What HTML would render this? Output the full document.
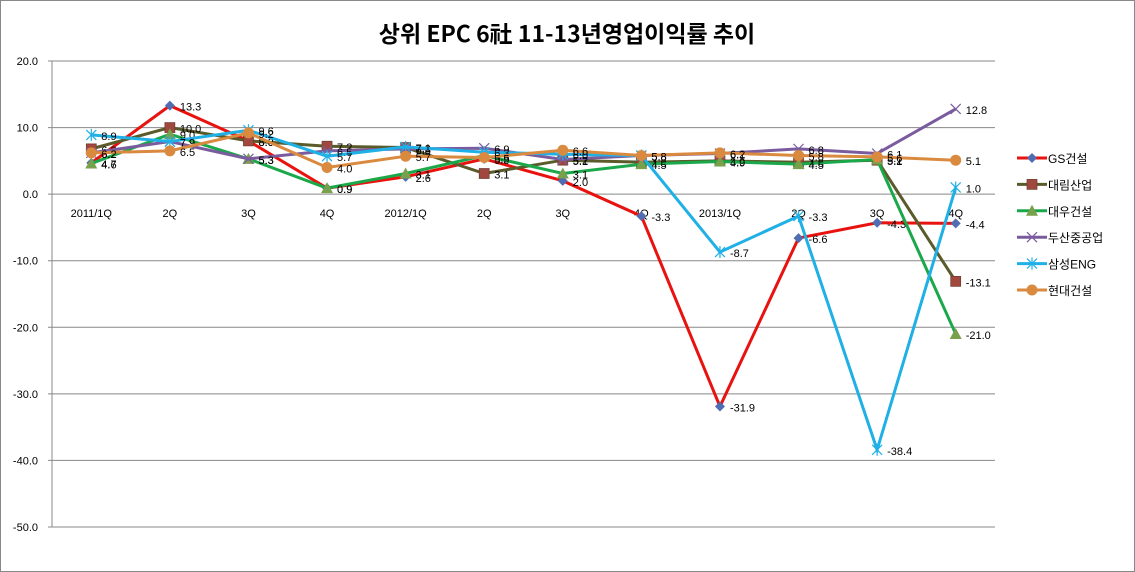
<!DOCTYPE html>
<html><head><meta charset="utf-8"><style>
body{margin:0;background:#fff;}
svg{display:block;font-family:"Liberation Sans","Noto Sans CJK KR",sans-serif;}
</style></head><body>
<svg id="chart" width="1135" height="572">
<rect x="0.5" y="0.5" width="1134" height="571" fill="#fff" stroke="#888"/>
<text x="567" y="42" text-anchor="middle" font-size="23" font-weight="bold" fill="#000" font-family="'Noto Sans CJK KR',sans-serif">상위 EPC 6社 11-13년영업이익률 추이</text>
<g id="grid"></g><g id="series"></g><g id="legend"></g>
</svg>
<script>
const categories=["2011/1Q","2Q","3Q","4Q","2012/1Q","2Q","3Q","4Q","2013/1Q","2Q","3Q","4Q"];
const yTicks=[20,10,0,-10,-20,-30,-40,-50];
const seriesNames=["GS건설","대림산업","대우건설","두산중공업","삼성ENG","현대건설"];
const gs=[4.7,13.3,8.0,0.9,2.6,5.3,2.0,-3.3,-31.9,-6.6,-4.3,-4.4];
const daelim=[6.8,10.0,8.0,7.2,7.0,3.1,5.1,4.8,5.0,4.8,5.1,-13.1];
const daewoo=[4.6,9.0,5.3,0.9,3.1,5.8,3.1,4.5,4.9,4.5,5.2,-21.0];
const doosan=[6.2,7.9,5.3,6.5,6.8,6.9,5.2,5.8,6.1,6.8,6.1,12.8];
const samsung=[8.9,7.9,9.6,5.7,7.1,6.3,6.0,5.8,-8.7,-3.3,-38.4,1.0];
const hyundai=[6.2,6.5,9.2,4.0,5.7,5.5,6.6,5.8,6.2,5.8,5.6,5.1];
const allSeries=[gs,daelim,daewoo,doosan,samsung,hyundai];
const colors=["#e8120f","#5a5a2a","#1aa84a","#7a5c9e","#1fb0e6","#d98a3f"];
const markerColors=["#4f6db0","#a0473e","#79a04a","#7a5c9e","#1fb0e6","#d98a3f"];
const markers=["diamond","square","triangle","x","star","circle"];
const NS="http://www.w3.org/2000/svg";
const L=52,R=995,T=61,B=527,yMax=20,yMin=-50;
const step=(R-L)/categories.length;
function xs(i){return L+step*(i+0.5);}
function ys(v){return T+(yMax-v)/(yMax-yMin)*(B-T);}
function mk(tag,attrs,parent){const e=document.createElementNS(NS,tag);for(const k in attrs)e.setAttribute(k,attrs[k]);parent.appendChild(e);return e;}
const grid=document.getElementById('grid');
mk('line',{x1:L,y1:T,x2:L,y2:B,stroke:'#888'},grid);
yTicks.forEach(t=>{
  const ln=mk('line',{x1:L-4,y1:ys(t),x2:R,y2:ys(t),stroke:'#888'},grid);
  
  
  const tx=mk('text',{x:38,y:ys(t)+4,'text-anchor':'end','font-size':11},grid);
  tx.textContent=t.toFixed(1);
  
  
});
categories.forEach((c,i)=>{
  const tx=mk('text',{x:xs(i),y:ys(0)+23,'text-anchor':'middle','font-size':11},grid);
  tx.textContent=c;
  
  
});
function marker(type,x,y,col,g){
  if(type==='diamond')mk('polygon',{points:`${x},${y-5} ${x+5},${y} ${x},${y+5} ${x-5},${y}`,fill:col},g);
  else if(type==='square')mk('rect',{x:x-5,y:y-5,width:10,height:10,fill:col,stroke:'#6b3a30','stroke-width':0.7},g);
  else if(type==='triangle')mk('polygon',{points:`${x},${y-6} ${x+6},${y+5} ${x-6},${y+5}`,fill:col},g);
  else if(type==='x'){mk('path',{d:`M${x-5} ${y-5}L${x+5} ${y+5}M${x-5} ${y+5}L${x+5} ${y-5}`,stroke:col,'stroke-width':1.2},g);}
  else if(type==='star'){mk('path',{d:`M${x-5} ${y-5}L${x+5} ${y+5}M${x-5} ${y+5}L${x+5} ${y-5}M${x} ${y-6}L${x} ${y+6}`,stroke:col,'stroke-width':1.2},g);}
  else mk('circle',{cx:x,cy:y,r:5.5,fill:col},g);
}
const sg=document.getElementById('series');
allSeries.forEach((d,s)=>{
  const g=mk('g',{},sg);
  
  
  const p=mk('polyline',{points:d.map((v,i)=>xs(i)+','+ys(v)).join(' '),fill:'none',stroke:colors[s],'stroke-width':3},g);
  
  
  d.forEach((v,i)=>{
    const mg=mk('g',{},g);
    
    
    marker(markers[s],xs(i),ys(v),markerColors[s],mg);
    const tx=mk('text',{x:xs(i)+10,y:ys(v)+5,'font-size':11,fill:'#000'},g);
    tx.textContent=v.toFixed(1);
    
    
  });
});
const lg=document.getElementById('legend');
seriesNames.forEach((n,s)=>{
  const y=158+s*26.4;
  const g=mk('g',{},lg);
  
  
  mk('line',{x1:1017,y1:y,x2:1047,y2:y,stroke:colors[s],'stroke-width':3},g);
  marker(markers[s],1032,y,markerColors[s],g);
  const tx=mk('text',{x:1048,y:y+5,'font-size':12},g);
  tx.textContent=n;
});
</script>
</body></html>
